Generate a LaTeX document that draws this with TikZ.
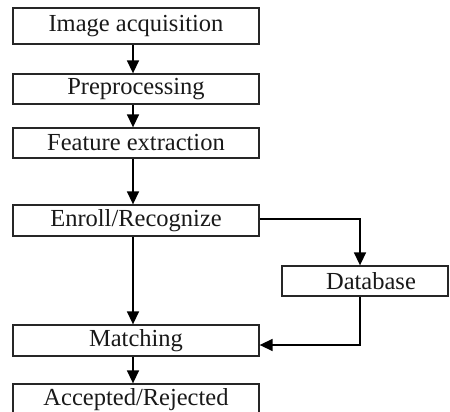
\documentclass[tikz,border=0pt]{standalone}
\usepackage{fontspec}
\setmainfont{Liberation Serif}
\usetikzlibrary{arrows.meta,calc}
\begin{document}
\begin{tikzpicture}[x=1pt,y=-1pt,
  box/.style={draw=black!85,line width=1.3pt,rectangle,inner sep=0pt,minimum width=246pt,font=\fontsize{24.5}{28}\selectfont,text=black!90},
  conn/.style={draw=black,line width=1.5pt,-{Triangle[width=12pt,length=13pt]}}]
\useasboundingbox (0,0) rectangle (450,412);
\node[box,minimum height=36pt] (b1) at (136,26) {Image acquisition};
\node[box,minimum height=30pt] (b2) at (136,89) {Preprocessing};
\node[box,minimum height=30pt] (b3) at (136,143) {Feature extraction};
\node[box,minimum height=31pt] (b4) at (136,220.5) {Enroll/Recognize};
\node[box,minimum height=31pt] (m) at (136,340.5) {Matching};
\node[box,minimum height=32pt] (ar) at (136,400) {Accepted/Rejected};
\node[box,minimum width=166pt,minimum height=30pt,text width=166pt,align=center] (db) at (365,281) {\hspace*{12pt}Database};
\draw[conn] ([xshift=-3pt]b1.south) -- ([xshift=-3pt]b2.north);
\draw[conn] ([xshift=-3pt]b2.south) -- ([xshift=-3pt]b3.north);
\draw[conn] ([xshift=-3pt]b3.south) -- ([xshift=-3pt]b4.north);
\draw[conn] ([xshift=-3pt]b4.south) -- ([xshift=-3pt]m.north);
\draw[conn] ([xshift=-3pt]m.south) -- ([xshift=-3pt]ar.north);
\draw[conn] ([yshift=1.5pt]b4.east) -| ([xshift=-5pt]db.north);
\draw[conn] ([xshift=-5pt]db.south) |- ([yshift=-4.5pt]m.east);
\end{tikzpicture}
\end{document}
